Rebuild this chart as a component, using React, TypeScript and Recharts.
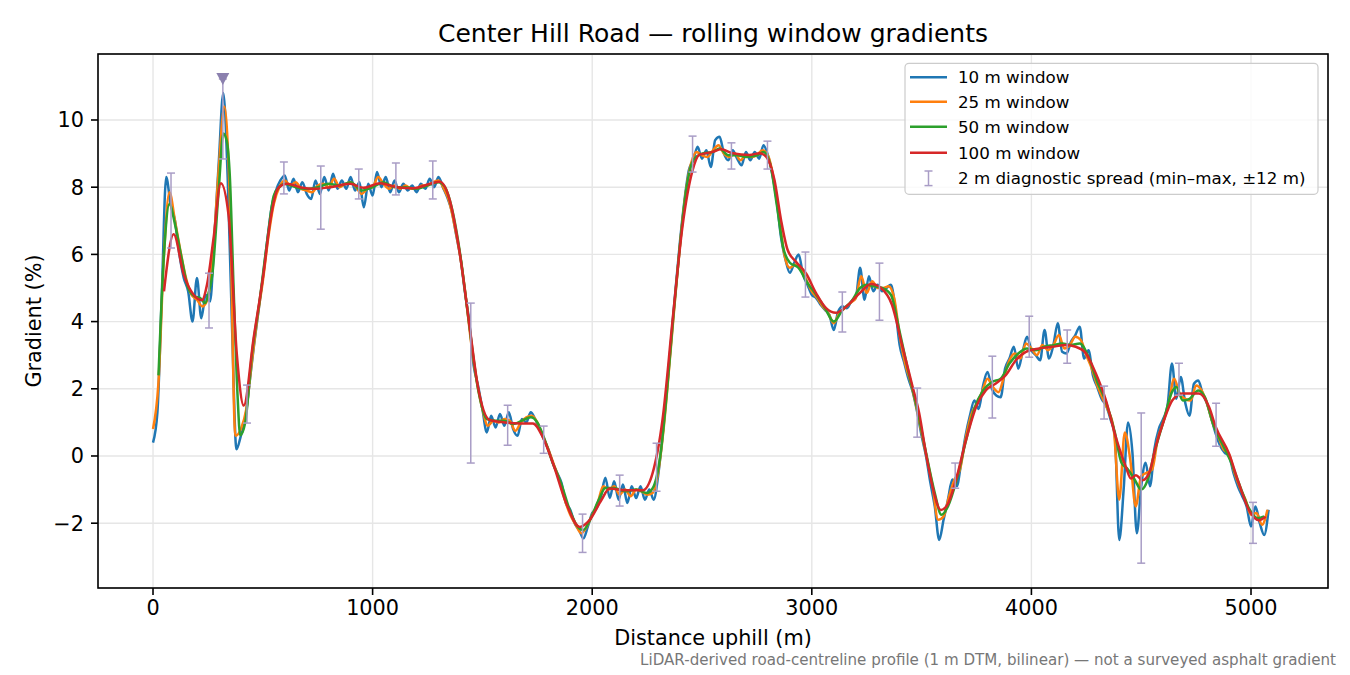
import { ComposedChart, Line, Scatter, ErrorBar, XAxis, YAxis, CartesianGrid } from "recharts";

// rolling-window gradient profiles
const W = 1350;
const H = 675;
const FONT = "DejaVu Sans, sans-serif";

const X_TICKS = [0, 1000, 2000, 3000, 4000, 5000];
const Y_TICKS = [-2, 0, 2, 4, 6, 8, 10];
const X_DOMAIN = [-250.5, 5350.6];
const Y_DOMAIN = [-3.929, 11.964];

// 10 m window, sampled every 20 m from 0
const W10_START = 0;
const W10_STEP = 20;
const w10 = [
  0.4, 1.3, 4.8, 8.3, 7.5, 7.0, 6.0, 5.3, 4.9, 4.0,
  5.3, 4.1, 4.8, 4.6, 6.6, 8.8, 10.8, 8.3, 3.8, 0.2,
  0.6, 1.1, 2.2, 3.3, 4.3, 5.3, 6.4, 7.4, 7.9, 8.2,
  8.35, 7.9, 8.25, 7.85, 8.15, 7.8, 7.65, 8.2, 7.8, 8.3,
  7.9, 8.4, 7.95, 8.2, 7.95, 8.3, 7.9, 8.15, 7.4, 8.1,
  7.75, 8.45, 8.0, 8.3, 7.85, 8.2, 7.85, 8.1, 7.9, 8.05,
  7.85, 8.1, 7.95, 8.25, 8.0, 8.3, 8.0, 7.7, 7.3, 6.6,
  5.9, 4.9, 4.0, 2.7, 2.1, 1.4, 0.7, 1.2, 0.85, 1.25,
  0.9, 1.3, 0.8, 0.6, 1.1, 1.0, 1.3, 1.1, 0.8, 0.5,
  0.2, -0.2, -0.5, -0.8, -1.4, -1.6, -2.0, -2.2, -2.45, -2.1,
  -1.7, -1.55, -1.2, -0.65, -1.25, -0.75, -1.3, -0.85, -1.4, -0.9,
  -1.25, -0.9, -1.3, -1.0, -1.3, -0.6, 0.6, 2.0, 3.5, 5.0,
  6.4, 7.6, 8.5, 8.8, 9.2, 8.85, 9.1, 8.6, 9.4, 9.5,
  9.0, 8.8, 9.1, 8.85, 8.65, 9.05, 8.8, 9.05, 8.85, 9.25,
  8.95, 8.4, 7.6, 6.5, 5.85, 5.45, 5.75, 6.0, 5.4, 5.1,
  4.8, 4.7, 4.5, 4.35, 4.2, 3.75, 4.3, 4.45, 4.4, 4.6,
  4.7, 5.6, 4.65, 5.35, 4.9, 5.1, 4.9, 5.0, 5.1, 4.4,
  3.3, 2.8, 2.3, 1.9, 1.3, 0.6, 0.0, -0.8, -1.5, -2.5,
  -1.9, -1.3, -0.7, -0.9, -0.2, 0.6, 1.2, 1.65, 1.4, 2.1,
  2.5, 2.0, 1.8, 1.75, 2.6, 2.9, 3.25, 2.6, 3.1, 3.55,
  3.15, 3.0, 2.85, 3.75, 2.9, 3.3, 3.95, 3.1, 3.05, 3.4,
  3.6, 3.85, 2.9, 3.15, 2.4, 2.05, 1.7, 1.5, 1.1, 0.6,
  -2.5, -1.0, 1.0, 0.1, -2.3, -0.9, -0.2, -0.9, 0.2, 0.8,
  1.1, 1.5, 2.75, 1.7, 2.35, 1.6, 1.2, 2.15, 2.25, 1.85,
  1.55, 1.1, 0.65, 0.3, 0.1, 0.0, -0.5, -0.9, -1.2, -1.5,
  -2.1, -1.5, -2.0, -2.35, -1.6,
];

// 25 m window, sampled every 25 m from 0
const W25_START = 0;
const W25_STEP = 25;
const w25 = [
  0.8, 2.2, 6.0, 7.85, 7.0, 6.1, 5.3, 4.8,
  4.65, 4.45, 4.7, 6.2, 8.6, 10.4, 7.6, 0.6,
  0.8, 1.4, 2.8, 4.1, 5.2, 6.5, 7.5, 8.0,
  8.2, 8.05, 8.15, 7.95, 7.9, 7.85, 8.05, 8.1,
  8.0, 8.25, 8.0, 8.1, 8.15, 8.0, 7.8, 7.95,
  8.0, 8.3, 8.1, 7.95, 8.05, 7.95, 8.05, 7.95,
  7.95, 8.05, 8.05, 8.15, 8.2, 7.95, 7.55, 6.8,
  5.9, 4.7, 3.3, 2.2, 1.4, 0.9, 1.05, 1.0,
  1.1, 1.05, 0.75, 1.0, 1.15, 1.2, 1.0, 0.6,
  0.2, -0.25, -0.7, -1.3, -1.75, -2.05, -2.3, -2.1,
  -1.75, -1.4, -0.9, -1.0, -0.9, -1.15, -1.0, -1.2,
  -1.0, -1.05, -1.15, -1.1, -0.5, 0.8, 2.6, 4.5,
  6.3, 7.8, 8.7, 9.05, 8.95, 8.9, 9.1, 9.25,
  9.0, 8.9, 9.0, 8.8, 8.95, 8.9, 8.95, 9.1,
  8.95, 8.3, 7.2, 6.0, 5.6, 5.7, 5.6, 5.25,
  4.9, 4.7, 4.45, 4.25, 3.95, 4.25, 4.4, 4.55,
  4.7, 5.35, 4.85, 5.2, 5.0, 5.0, 5.05, 4.7,
  3.6, 2.75, 2.2, 1.5, 0.7, -0.1, -0.9, -1.9,
  -1.8, -1.2, -0.7, -0.4, 0.5, 1.2, 1.55, 1.9,
  2.3, 2.05, 1.9, 2.35, 2.85, 3.05, 2.9, 3.35,
  3.2, 3.0, 3.3, 3.15, 3.3, 3.6, 3.2, 3.3,
  3.55, 3.45, 3.0, 2.6, 2.1, 1.7, 1.35, 0.8,
  -1.3, 0.7, -0.1, -1.5, -0.6, -0.5, -0.4, 0.5,
  1.0, 1.55, 2.3, 1.85, 1.7, 1.65, 2.1, 1.95,
  1.55, 1.0, 0.6, 0.2, 0.05, -0.5, -0.95, -1.3,
  -1.75, -1.7, -2.05, -1.6,
];

// 50 m window
const w50Dist = [
  25, 50, 75, 100, 130, 160, 190, 215, 237, 255, 270, 300, 320, 335, 350, 367, 385, 397,
  420, 450, 487, 525, 550, 575, 600, 650, 700, 750, 800, 850, 900, 950, 1000, 1050,
  1100, 1150, 1200, 1250, 1300, 1330, 1360, 1400, 1440, 1480, 1520, 1560, 1600, 1640,
  1680, 1720, 1750, 1780, 1820, 1860, 1900, 1940, 1960, 1990, 2030, 2060, 2100, 2150,
  2200, 2250, 2280, 2310, 2340, 2370, 2400, 2430, 2460, 2500, 2550, 2580, 2620, 2660,
  2700, 2750, 2780, 2810, 2840, 2870, 2900, 2940, 2980, 3020, 3060, 3100, 3140, 3180,
  3220, 3250, 3280, 3320, 3360, 3400, 3440, 3480, 3520, 3560, 3590, 3620, 3660, 3700,
  3740, 3780, 3820, 3860, 3900, 3940, 3980, 4020, 4060, 4100, 4140, 4180, 4220, 4260,
  4300, 4340, 4380, 4410, 4440, 4470, 4500, 4530, 4560, 4600, 4640, 4660, 4690, 4720,
  4760, 4790, 4830, 4870, 4910, 4950, 4990, 5030, 5060,
];
const w50 = [
  2.4, 6.0, 7.5, 6.9, 5.9, 5.0, 4.75, 4.7, 4.55, 4.9, 5.4, 8.0, 9.6, 9.4, 8.3, 5.0, 1.8, 0.62,
  1.0, 3.0, 4.7, 6.65, 7.75, 8.0, 8.1, 8.0, 7.95, 8.0, 8.1, 8.05, 8.15, 7.9, 8.0, 8.15,
  8.0, 8.0, 7.95, 8.05, 8.15, 8.0, 7.4, 5.95, 3.9, 2.0, 1.1, 1.05, 1.05, 0.95,
  1.05, 1.15, 1.0, 0.55, -0.2, -0.85, -1.65, -2.15, -2.2, -1.9, -1.3, -0.95, -0.95, -1.05,
  -1.0, -1.1, -0.9, 0.0, 1.9, 4.2, 6.3, 8.0, 8.8, 9.0, 9.05, 9.15, 8.95, 8.95,
  8.9, 8.95, 9.05, 8.7, 7.5, 6.2, 5.75, 5.6, 5.15, 4.8, 4.4, 4.0, 4.35, 4.6,
  5.0, 5.1, 5.05, 5.0, 4.8, 3.7, 2.5, 1.4, 0.1, -1.1, -1.75, -1.5, -0.7, 0.4,
  1.4, 1.95, 2.2, 2.3, 2.75, 3.05, 3.2, 3.15, 3.25, 3.3, 3.35, 3.3, 3.35, 2.95,
  2.2, 1.6, 0.7, -0.2, -0.4, -0.7, -1.0, -0.7, 0.1, 1.0, 1.9, 2.05, 1.65, 1.7,
  1.95, 1.75, 0.9, 0.35, -0.2, -0.9, -1.55, -1.85, -1.8,
];

// 100 m window
const w100Dist = [
  50, 94, 140, 185, 223, 246, 276, 309, 344, 382, 413, 458, 504, 533, 572, 610, 670, 731,
  807, 898, 959, 1035, 1110, 1186, 1262, 1306, 1351, 1397, 1442, 1480, 1533, 1579, 1670,
  1730, 1775, 1821, 1882, 1943, 1988, 2042, 2079, 2155, 2230, 2275, 2320, 2366, 2411,
  2457, 2487, 2548, 2587, 2639, 2716, 2762, 2792, 2830, 2860, 2890, 2928, 2974, 3020,
  3065, 3110, 3156, 3217, 3270, 3315, 3365, 3413, 3459, 3489, 3520, 3550, 3588, 3617,
  3656, 3702, 3748, 3793, 3838, 3884, 3929, 3975, 4035, 4095, 4157, 4202, 4248, 4293,
  4339, 4384, 4430, 4453, 4476, 4506, 4536, 4566, 4604, 4642, 4688, 4763, 4809, 4839,
  4900, 4945, 4991, 5036, 5067,
];
const w100 = [
  4.9, 6.6, 5.4, 4.8, 4.64, 5.1, 6.5, 8.12, 7.17, 3.0, 1.5, 3.5, 5.47, 6.96, 7.99, 8.1, 8.0, 7.95,
  8.0, 8.1, 7.98, 8.12, 8.0, 7.97, 8.1, 8.16, 7.62, 6.03, 3.84, 2.05, 1.07, 1.02, 0.97,
  0.97, 0.56, -0.21, -1.41, -2.11, -1.91, -1.31, -0.97, -1.02, -1.02, -0.51, 1.07, 4.04, 6.83,
  8.5, 8.96, 9.05, 9.13, 9.01, 8.96, 9.01, 8.91, 8.21, 7.02, 6.13, 5.78, 5.43, 4.84,
  4.4, 4.26, 4.44, 4.84, 5.12, 5.0, 4.5, 3.25, 2.06, 1.27, 0.07, -0.92, -1.61, -1.46,
  -0.72, 0.47, 1.46, 1.96, 2.16, 2.41, 2.85, 3.1, 3.2, 3.25, 3.3, 3.25, 3.06, 2.46,
  1.66, 0.57, -0.32, -0.67, -0.57, -0.72, -0.51, 0.27, 1.07, 1.66, 1.86, 1.86, 1.46, 0.87,
  0.07, -0.82, -1.61, -1.91, -1.81,
];

// 2 m diagnostic spread (min / max within ±12 m)
const spreadDist = [
  82, 255, 318, 428, 596, 764, 937, 1106, 1274, 1447, 1615, 1779, 1956, 2125, 2293, 2457,
  2634, 2798, 2971, 3139, 3308, 3480, 3653, 3822, 3990, 4163, 4331, 4500, 4672, 4841, 5009,
];
const spreadMin = [
  6.19, 3.81, 8.84, 0.98, 7.8, 6.75, 7.65, 7.77, 7.65, -0.21, 0.32, 0.08, -2.87, -1.49, -1.05, 8.45,
  8.54, 8.54, 4.73, 3.69, 4.04, 0.56, -0.96, 1.13, 2.94, 2.76, 1.1, -3.19, 1.81, 0.29, -2.6,
];
const spreadMax = [
  8.42, 5.44, 11.22, 2.11, 8.75, 8.63, 8.54, 8.72, 8.78, 4.55, 1.51, 0.89, -1.73, -0.57, 0.38, 9.52,
  9.32, 9.37, 6.07, 4.88, 5.74, 2.02, -0.21, 2.97, 4.16, 3.75, 2.08, 1.28, 2.76, 1.57, -1.38,
];

// peak marker
const peakDist = [318];
const peakValue = [11.22];

const w10Data = w10.map((y, i) => ({ x: W10_START + i * W10_STEP, y }));
const w25Data = w25.map((y, i) => ({ x: W25_START + i * W25_STEP, y }));
const w50Data = w50Dist.map((x, i) => ({ x, y: w50[i] }));
const w100Data = w100Dist.map((x, i) => ({ x, y: w100[i] }));
const spreadData = spreadDist.map((x, i) => ({
  x,
  y: (spreadMin[i] + spreadMax[i]) / 2,
  err: (spreadMax[i] - spreadMin[i]) / 2,
}));
const peakData = peakDist.map((x, i) => ({ x, y: peakValue[i] }));

const SERIES = [
  { name: "10 m window", color: "#1f77b4", data: w10Data },
  { name: "25 m window", color: "#ff7f0e", data: w25Data },
  { name: "50 m window", color: "#2ca02c", data: w50Data },
  { name: "100 m window", color: "#d62728", data: w100Data },
];
const SPREAD_COLOR = "#a99dc6";
const PEAK_COLOR = "#8b80ae";

const fmtY = (v: number) => (v < 0 ? `\u2212${Math.abs(v)}` : `${v}`);

const NoShape = () => <g />;

const Triangle = (props: any) => {
  const { cx, cy } = props;
  return <path d={`M${cx - 6.5},${cy - 6}L${cx + 6.5},${cy - 6}L${cx},${cy + 6}Z`} fill={PEAK_COLOR} />;
};

const tickStyle = { fill: "#000", fontSize: 20.8, fontFamily: FONT };

export default function App() {
  const legendRows = [77.3, 101.7, 126.7, 152.7];
  return (
    <div style={{ position: "absolute", left: 0, top: 0, width: W, height: H, background: "#fff" }}>
      <ComposedChart width={W} height={H} margin={{ top: 54, right: 22, bottom: 0, left: 0 }}>
        <CartesianGrid stroke="#e6e6e6" strokeWidth={1.4} />
        <XAxis
          type="number"
          dataKey="x"
          domain={X_DOMAIN}
          ticks={X_TICKS}
          allowDataOverflow
          height={87}
          axisLine={false}
          tickLine={{ stroke: "#000", strokeWidth: 1.6 }}
          tickSize={7}
          tickMargin={5}
          tick={tickStyle}
        />
        <YAxis
          type="number"
          dataKey="y"
          domain={Y_DOMAIN}
          ticks={Y_TICKS}
          allowDataOverflow
          width={98}
          axisLine={false}
          tickLine={{ stroke: "#000", strokeWidth: 1.6 }}
          tickSize={7}
          tickMargin={7}
          tick={tickStyle}
          tickFormatter={fmtY}
        />
        {SERIES.map((s) => (
          <Line
            key={s.name}
            data={s.data}
            dataKey="y"
            type="monotone"
            stroke={s.color}
            strokeWidth={2.5}
            dot={false}
            activeDot={false}
            isAnimationActive={false}
          />
        ))}
        <Scatter data={spreadData} dataKey="y" shape={NoShape} isAnimationActive={false}>
          <ErrorBar dataKey="err" direction="y" width={4} stroke={SPREAD_COLOR} strokeWidth={1.5} />
        </Scatter>
        <Scatter data={peakData} dataKey="y" shape={Triangle} isAnimationActive={false} />
      </ComposedChart>

      <svg
        width={W}
        height={H}
        style={{ position: "absolute", left: 0, top: 0, pointerEvents: "none" }}
        fontFamily={FONT}
      >
        <rect x={98} y={54} width={1230} height={534} fill="none" stroke="#000" strokeWidth={1.6} />
        <text x={713} y={41.7} textAnchor="middle" fontSize={25} fill="#000">
          Center Hill Road — rolling window gradients
        </text>
        <text x={713} y={645} textAnchor="middle" fontSize={20.8} fill="#000">
          Distance uphill (m)
        </text>
        <text transform="translate(40.5,321) rotate(-90)" textAnchor="middle" fontSize={20.8} fill="#000">
          Gradient (%)
        </text>
        <text x={1336} y={665} textAnchor="end" fontSize={15.1} fill="#777">
          LiDAR-derived road-centreline profile (1 m DTM, bilinear) — not a surveyed asphalt gradient
        </text>

        <rect x={905} y={63.3} width={413} height={131} rx={4} fill="#fff" fillOpacity={0.8} stroke="#cccccc" strokeWidth={1.2} />
        {SERIES.map((s, i) => (
          <g key={s.name}>
            <line x1={910} x2={947} y1={legendRows[i]} y2={legendRows[i]} stroke={s.color} strokeWidth={2.6} />
            <text x={958} y={legendRows[i] + 6} fontSize={16.7} fill="#000">
              {s.name}
            </text>
          </g>
        ))}
        <g stroke={SPREAD_COLOR} strokeWidth={1.5}>
          <line x1={928.5} x2={928.5} y1={171} y2={185.6} />
          <line x1={924.5} x2={932.5} y1={171} y2={171} />
          <line x1={924.5} x2={932.5} y1={185.6} y2={185.6} />
        </g>
        <text x={958} y={184.3} fontSize={16.7} fill="#000">
          2 m diagnostic spread (min–max, ±12 m)
        </text>
      </svg>
    </div>
  );
}
